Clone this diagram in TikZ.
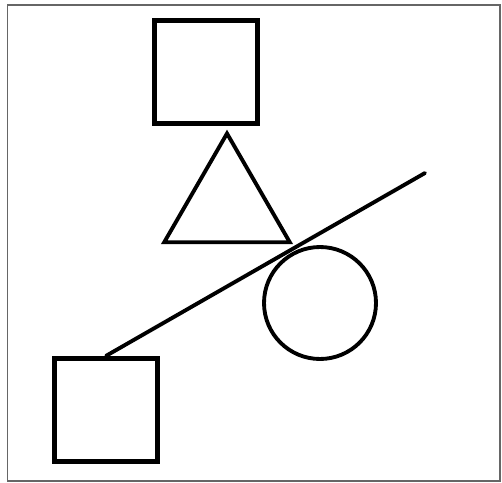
\documentclass[tikz,border=0pt]{standalone}
\usetikzlibrary{shapes.geometric}
\tikzset{
  frame/.style={draw=black!60, line width=0.8pt},
  sqbox/.style={draw, line width=3pt, minimum size=2.06cm, inner sep=0pt},
  tri/.style={draw, line width=2.2pt, regular polygon, regular polygon sides=3,
    minimum size=2.9cm, inner sep=0pt},
  ring/.style={draw, line width=2.2pt, circle, minimum size=2.24cm, inner sep=0pt},
  bar/.style={line width=2.2pt, line cap=round},
}
\begin{document}
\begin{tikzpicture}[x=0.02cm,y=-0.02cm]

\useasboundingbox (0,0) rectangle (502,482);
\draw[frame] (7.5,5) rectangle (500,481);

% ---- shapes ----
\node[sqbox] (topsq) at (206,72) {};
\node[tri] (tri) at (227,206) {};
\node[ring] (ring) at (320,303) {};
\node[sqbox] (botsq) at (106,410) {};

% ---- line ----
\coordinate (tip) at (425,173);
\draw[bar] (botsq.north) -- (tip);

\end{tikzpicture}
\end{document}
